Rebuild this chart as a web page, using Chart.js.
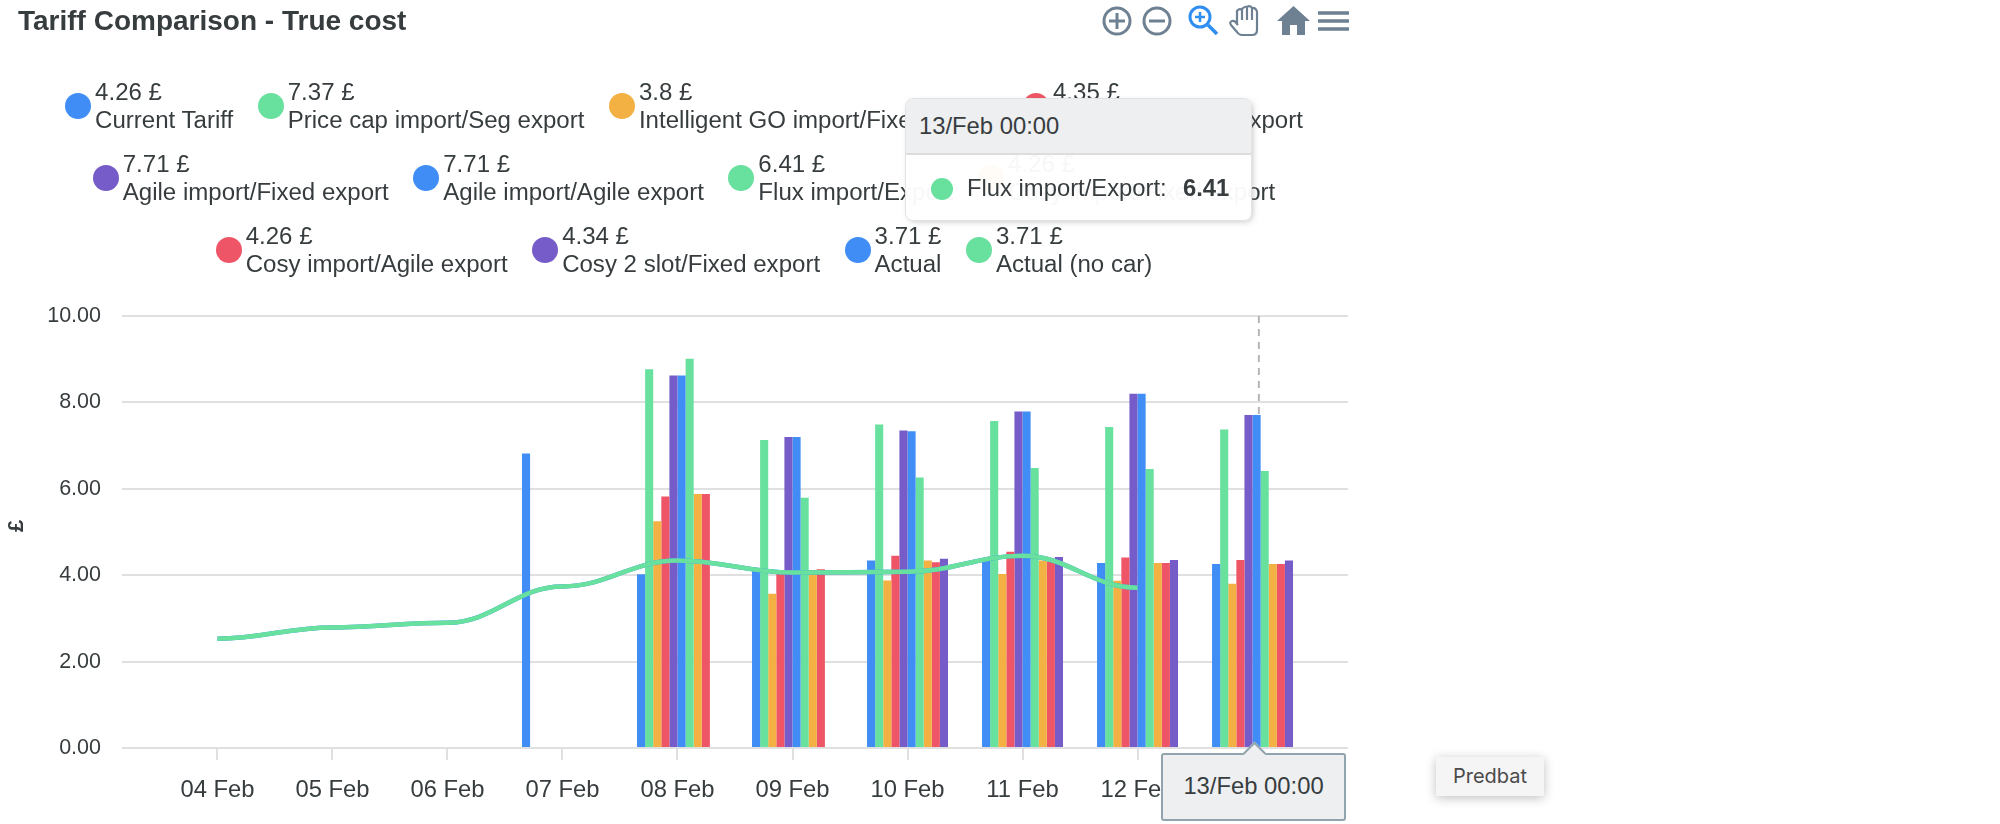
<!DOCTYPE html>
<html>
<head>
<meta charset="utf-8">
<title>Tariff Comparison - True cost</title>
<script src="https://cdn.jsdelivr.net/npm/chart.js@4"></script>
<style>
    body { margin: 0; background: #fff; font-family: "Liberation Sans", Arial, sans-serif; color: #373d3f; }
    #page { position: relative; width: 2000px; height: 824px; overflow: hidden; }
    #chart { position: absolute; left: 0; top: 0; }
    #title { position: absolute; left: 18px; top: 5px; font-size: 28px; font-weight: bold; white-space: nowrap; }
    #legend { position: absolute; left: 0; top: 78px; width: 1368px; display: flex; flex-wrap: wrap; justify-content: center; column-gap: 24.5px; row-gap: 16px; }
    .item { display: flex; align-items: center; font-size: 24.05px; line-height: 28px; white-space: nowrap; }
    .dot { width: 26px; height: 26px; border-radius: 50%; margin-right: 4px; }
    #tip { position: absolute; left: 905px; top: 98px; width: 345px; height: 121px; background: rgba(255,255,255,.96); border: 1px solid #e3e3e3; border-radius: 8px; box-shadow: 2px 2px 6px -2px rgba(120,120,120,.5); overflow: hidden; }
    #tipHead { height: 54px; line-height: 54px; padding-left: 13px; background: #eeeff1; border-bottom: 2px solid #ddd; font-size: 23.8px; }
    #tipRow { position: relative; font-size: 23.8px; }
    #tipRow .dot { position: absolute; left: 25px; top: 23px; width: 22px; height: 22px; margin: 0; }
    #tipRow .lab { position: absolute; left: 61px; top: 19px; white-space: nowrap; }
    #tipRow .val { position: absolute; left: 277px; top: 19px; font-weight: bold; }
    #xTip { position: absolute; left: 1161px; top: 753px; width: 181px; height: 64px; background: #eeeff1; border: 2px solid #90a4ae; border-radius: 3px; font-size: 23.8px; line-height: 62px; text-align: center; }
    #xTip i { position: absolute; left: 83px; top: -10px; width: 15px; height: 15px; background: #eeeff1; border: 2px solid #90a4ae; border-right: 0; border-bottom: 0; transform: rotate(45deg); }
    #hover { position: absolute; left: 1436px; top: 757px; width: 108px; height: 39px; line-height: 39px; text-align: center; background: #f5f5f5; box-shadow: 0 2px 10px rgba(0,0,0,.25); font-family: Inter, sans-serif; font-size: 20px; color: #4a4a4a; }
    #tools { position: absolute; left: 0; top: 0; }
</style>
</head>
<body>
<div id="page">
    <canvas id="chart" width="1368" height="824"></canvas>
    <div id="title">Tariff Comparison - True cost</div>
    <div id="legend"></div>
    <svg id="tools" width="1368" height="44" fill="none" stroke="#6e8192">
        <circle cx="1117" cy="21" r="13" stroke-width="3"/>
        <path d="M1109 21h16M1117 13v16" stroke-width="3"/>
        <circle cx="1157" cy="21" r="13" stroke-width="3"/>
        <path d="M1149 21h16" stroke-width="3"/>
        <circle cx="1200" cy="17" r="10" stroke="#2f8ef0" stroke-width="3"/>
        <path d="M1195 17h10M1200 12v10" stroke="#2f8ef0" stroke-width="2.5"/>
        <path d="M1208 25l9 9" stroke="#2f8ef0" stroke-width="3.5"/>
        <path d="M1242 20V9M1247 20V7M1252 20V8M1257 21V11M1237 24V11q2.500-3 5-1M1242 9q2.500-3 5-2M1247 7q2.500-2 5 1M1252 8q3-1 5 3M1257 11V30q0 5-5 5h-10q-3 0-5-3l-6-7q-2-3 1-4t5 3l1 1" stroke-width="2.200"/>
        <path d="M1277 21L1293.500 6 1310 21h-5v14h-8v-10h-7v10h-8V21z" fill="#6e8192" stroke="none"/>
        <path d="M1318 13h31M1318 21h31M1318 29h31" stroke-width="3.500"/>
    </svg>
    <div id="tip">
        <div id="tipHead">13/Feb 00:00</div>
        <div id="tipRow">
            <div class="dot" style="background:#68e09e"></div>
            <span class="lab">Flux import/Export:</span>
            <span class="val">6.41</span>
        </div>
    </div>
    <div id="xTip"><i></i>13/Feb 00:00</div>
    <div id="hover">Predbat</div>
</div>
<script>
// Day labels on the x axis
const days = ['04 Feb', '05 Feb', '06 Feb', '07 Feb', '08 Feb', '09 Feb', '10 Feb', '11 Feb', '12 Feb', '13 Feb'];
const yTicks = [0, 2, 4, 6, 8, 10];

// Legend names and the values shown next to them
const names = [
    'Current Tariff', 'Price cap import/Seg export', 'Intelligent GO import/Fixed export', 'GO import/Fixed export',
    'Agile import/Fixed export', 'Agile import/Agile export', 'Flux import/Export', 'Cosy import/Fixed export',
    'Cosy import/Agile export', 'Cosy 2 slot/Fixed export', 'Actual', 'Actual (no car)'
];
const legendValues = ['4.26', '7.37', '3.8', '4.35', '7.71', '7.71', '6.41', '4.26', '4.26', '4.34', '3.71', '3.71'];

const blue = '#3f8df5', green = '#68e09e', orange = '#f2b142', red = '#ee5566', purple = '#765cc8';
const colors = [blue, green, orange, red, purple, blue, green, orange, red, purple, blue, green];

// Bar series, one value per day
const currentTariff = [null, null, null, 6.82, 4.02, 4.11, 4.34, 4.35, 4.28, 4.26];
const priceCap      = [null, null, null, null, 8.77, 7.13, 7.49, 7.57, 7.43, 7.37];
const goFixed       = [null, null, null, null, 5.25, 3.57, 3.88, 4.03, 3.87, 3.80];
const goAgile       = [null, null, null, null, 5.82, 4.03, 4.45, 4.54, 4.41, 4.35];
const agileFixed    = [null, null, null, null, 8.62, 7.20, 7.35, 7.79, 8.20, 7.71];
const agileAgile    = [null, null, null, null, 8.62, 7.20, 7.33, 7.79, 8.20, 7.71];
const flux          = [null, null, null, null, 9.01, 5.79, 6.26, 6.48, 6.46, 6.41];
const cosyFixed     = [null, null, null, null, 5.88, 4.12, 4.34, 4.34, 4.28, 4.26];
const cosyAgile     = [null, null, null, null, 5.88, 4.14, 4.30, 4.31, 4.28, 4.26];
const cosy2         = [null, null, null, null, null, null, 4.38, 4.42, 4.35, 4.34];

// Line series
const actual      = [2.53, 2.79, 2.90, 3.74, 4.34, 4.06, 4.08, 4.45, 3.71, null];
const actualNoCar = [2.53, 2.79, 2.90, 3.74, 4.34, 4.06, 4.08, 4.45, 3.71, null];

const barSeries = [currentTariff, priceCap, goFixed, goAgile, agileFixed, agileAgile, flux, cosyFixed, cosyAgile, cosy2];
const crosshairDay = 9.055;
const curveHandle = 0.4;

function points(values) {
    return values.map((v, i) => ({ x: i, y: v }));
}

// Legend is plain html so the value can sit above the name
const legendDiv = document.getElementById('legend');
names.forEach((name, i) => {
    const item = document.createElement('div');
    item.className = 'item';
    item.innerHTML = `<div class="dot" style="background:${colors[i]}"></div><div>${legendValues[i]} £<br>${name}</div>`;
    legendDiv.appendChild(item);
});

const datasets = barSeries.map((values, i) => ({
    type: 'bar',
    label: names[i],
    data: points(values),
    backgroundColor: colors[i],
    barPercentage: 1,
    categoryPercentage: 0.704,
    order: 3
}));

[[actual, 10, 2], [actualNoCar, 11, 1]].forEach(([values, i, order]) => {
    datasets.push({
        type: 'line',
        label: names[i],
        data: points(values),
        borderColor: colors[i],
        borderWidth: 4.5,
        pointRadius: 0,
        cubicInterpolationMode: 'monotone',
        order: order
    });
});

// Dashed hover line under the bars, and flat curve handles at each line point
const chartExtras = {
    id: 'chartExtras',
    beforeDatasetsDraw(chart) {
        const { ctx, chartArea, scales } = chart;
        const x = scales.x.getPixelForValue(crosshairDay);
        ctx.save();
        ctx.strokeStyle = '#b6b6b6';
        ctx.lineWidth = 2;
        ctx.setLineDash([7, 6]);
        ctx.beginPath();
        ctx.moveTo(x, chartArea.top);
        ctx.lineTo(x, chartArea.bottom);
        ctx.stroke();
        ctx.restore();

        const step = scales.x.getPixelForValue(1) - scales.x.getPixelForValue(0);
        chart.getSortedVisibleDatasetMetas().filter(m => m.type === 'line').forEach(meta => {
            meta.dataset.updateControlPoints(chartArea);
            meta.data.forEach(pt => {
                pt.cp1x = pt.x - step * curveHandle;
                pt.cp2x = pt.x + step * curveHandle;
                pt.cp1y = pt.y;
                pt.cp2y = pt.y;
            });
        });
    }
};

new Chart(document.getElementById('chart'), {
    data: { datasets: datasets },
    plugins: [chartExtras],
    options: {
        responsive: false,
        animation: false,
        devicePixelRatio: 1,
        layout: { padding: { top: 316, right: 20, bottom: 8, left: 0 } },
        plugins: { legend: { display: false }, tooltip: { enabled: false } },
        scales: {
            x: {
                type: 'linear',
                offset: false,
                min: -0.83,
                max: 9.83,
                afterBuildTicks(axis) {
                    axis.ticks = days.map((d, i) => ({ value: i }));
                },
                afterFit(axis) {
                    axis.height = 68;
                },
                border: { display: false },
                grid: { offset: false, drawOnChartArea: false, color: '#e0e0e0', lineWidth: 2, tickLength: 12 },
                ticks: {
                    autoSkip: false,
                    maxRotation: 0,
                    padding: 16,
                    color: '#373d3f',
                    font: { family: 'Liberation Sans', size: 23.8 },
                    callback: (value) => days[value]
                }
            },
            y: {
                min: 0,
                max: 10,
                afterBuildTicks(axis) {
                    axis.ticks = yTicks.map(v => ({ value: v }));
                },
                afterFit(axis) {
                    axis.width = 122;
                },
                border: { display: false },
                grid: { color: '#e0e0e0', lineWidth: 2, drawTicks: false },
                ticks: {
                    padding: 21,
                    color: '#373d3f',
                    font: { family: 'Liberation Sans', size: 21.5 },
                    callback: (value) => value.toFixed(2)
                },
                title: {
                    display: true,
                    text: '\u00a0\u00a0£',
                    color: '#373d3f',
                    padding: { top: 4, bottom: 0 },
                    font: { family: 'Liberation Sans', size: 22, weight: 'bold' }
                }
            }
        }
    }
});
</script>
</body>
</html>
